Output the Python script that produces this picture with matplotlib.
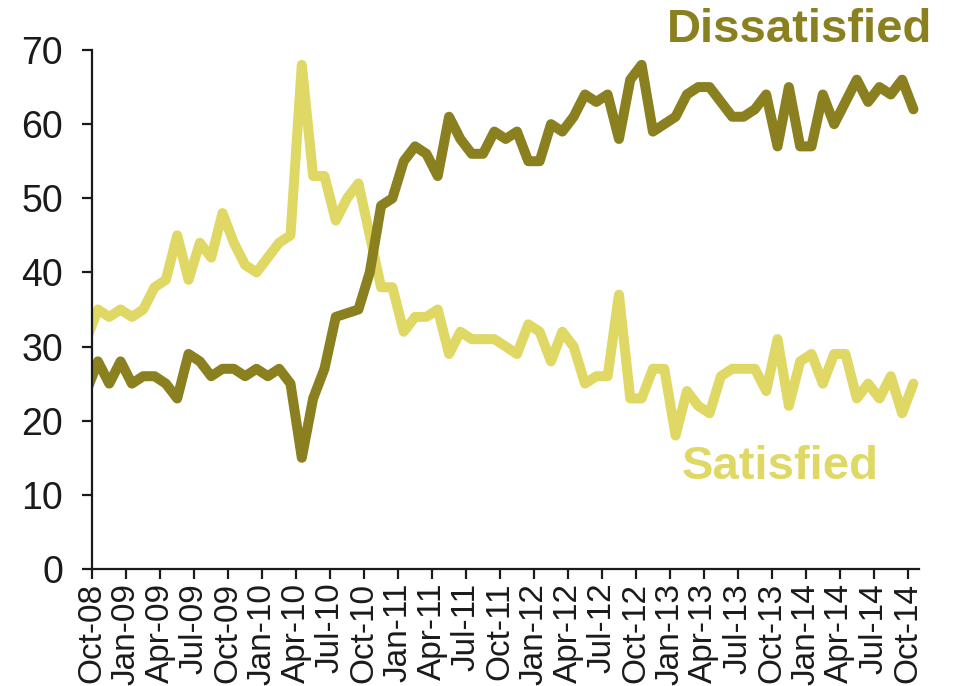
import matplotlib
matplotlib.use("Agg")
import matplotlib.pyplot as plt

plt.rcParams['font.family'] = ['Liberation Sans', 'DejaVu Sans']

# Monthly survey, first value is Sep-08 (partly hidden behind the y axis), last is Oct-14
satisfied = [31, 35, 34, 35, 34, 35, 38, 39, 45, 39, 44, 42, 48, 44, 41, 40, 42, 44, 45,
             68, 53, 53, 47, 50, 52, 45, 38, 38, 32, 34, 34, 35, 29, 32, 31, 31, 31,
             30, 29, 33, 32, 28, 32, 30, 25, 26, 26, 37, 23, 23, 27, 27, 18, 24, 22,
             21, 26, 27, 27, 27, 24, 31, 22, 28, 29, 25, 29, 29, 23, 25, 23, 26, 21, 25]
dissatisfied = [24, 28, 25, 28, 25, 26, 26, 25, 23, 29, 28, 26, 27, 27, 26, 27, 26, 27, 25,
                15, 23, 27, 34, 34.5, 35, 40, 49, 50, 55, 57, 56, 53, 61, 58, 56, 56, 59,
                58, 59, 55, 55, 60, 59, 61, 64, 63, 64, 58, 66, 68, 59, 60, 61, 64, 65,
                65, 63, 61, 61, 62, 64, 57, 65, 57, 57, 64, 60, 63, 66, 63, 65, 64, 66, 62]
tick_labels = ["Oct-08", "Jan-09", "Apr-09", "Jul-09", "Oct-09", "Jan-10", "Apr-10",
               "Jul-10", "Oct-10", "Jan-11", "Apr-11", "Jul-11", "Oct-11", "Jan-12",
               "Apr-12", "Jul-12", "Oct-12", "Jan-13", "Apr-13", "Jul-13", "Oct-13",
               "Jan-14", "Apr-14", "Jul-14", "Oct-14"]

c_dis = '#8a801f'
c_sat = '#e0d865'

# months since Oct-08, points sit mid-month
months = [i - 1 + 0.5 for i in range(len(satisfied))]
tick_pos = [3 * k for k in range(len(tick_labels))]

fig = plt.figure(figsize=(9.57, 6.86), dpi=100)
ax = fig.add_axes([0.0964, 0.1706, 0.8640, 0.7565])

ax.plot(months, satisfied, color=c_sat, lw=7.2, solid_joinstyle='round', solid_capstyle='round')
ax.plot(months, dissatisfied, color=c_dis, lw=7.2, solid_joinstyle='round', solid_capstyle='round')

ax.set_xlim(0, 73)
ax.set_ylim(0, 70)
ax.set_yticks(range(0, 71, 10))
ax.set_xticks(tick_pos)
ax.set_xticklabels(tick_labels, rotation=90)

for s in ['top', 'right']:
    ax.spines[s].set_visible(False)
for s in ['left', 'bottom']:
    ax.spines[s].set_linewidth(1.6)
    ax.spines[s].set_color('#1a1a1a')
ax.tick_params(axis='both', direction='out', length=7, width=1.6, color='#1a1a1a',
               labelcolor='#1a1a1a')
ax.tick_params(axis='x', pad=3, labelsize=24)
ax.tick_params(axis='y', pad=14, labelsize=27)

fig.text(932 / 957, 1 - 30 / 686, 'Dissatisfied', color=c_dis, fontsize=34,
         fontweight='bold', ha='right', va='center')
fig.text(780 / 957, 1 - 467 / 686, 'Satisfied', color=c_sat, fontsize=34,
         fontweight='bold', ha='center', va='center')

fig.savefig('out.png', dpi=100)
